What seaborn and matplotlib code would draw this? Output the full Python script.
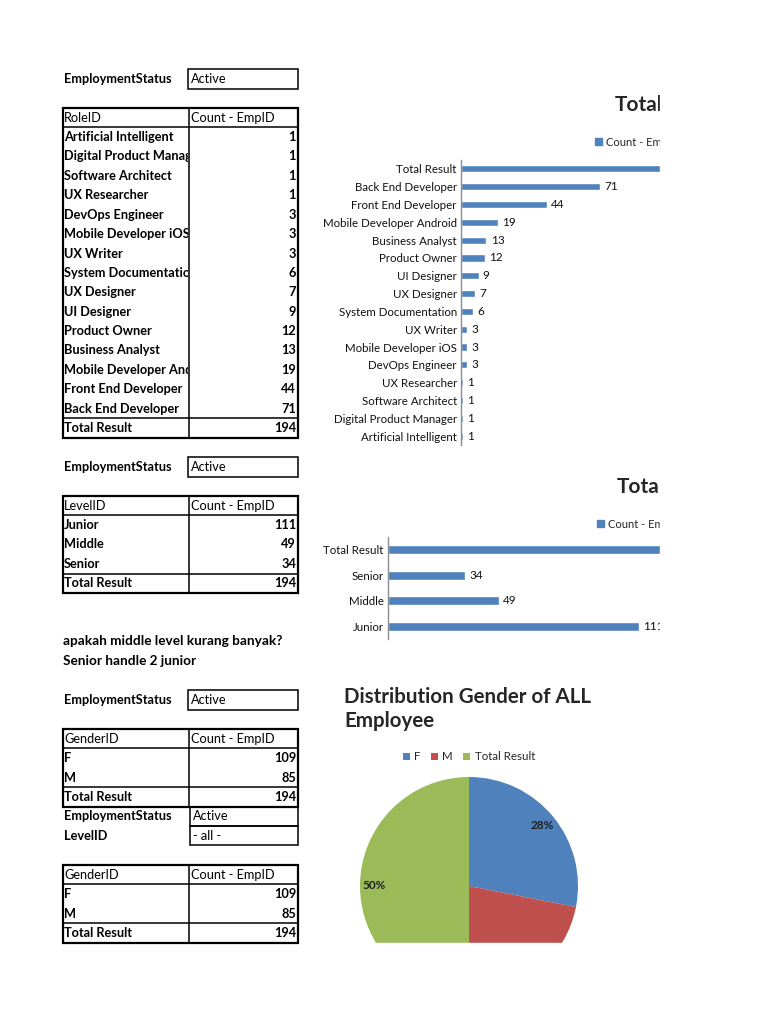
import pandas as pd
import seaborn as sns
import matplotlib.pyplot as plt
from matplotlib.patches import Rectangle, Patch
from matplotlib.transforms import Bbox, TransformedBbox

# pivot data (as in the sheet)
roles = ['Artificial Intelligent', 'Digital Product Manager', 'Software Architect', 'UX Researcher',
         'DevOps Engineer', 'Mobile Developer iOS', 'UX Writer', 'System Documentation',
         'UX Designer', 'UI Designer', 'Product Owner', 'Business Analyst',
         'Mobile Developer Android', 'Front End Developer', 'Back End Developer']
role_counts = [1, 1, 1, 1, 3, 3, 3, 6, 7, 9, 12, 13, 19, 44, 71]
levels = ['Junior', 'Middle', 'Senior']
level_counts = [111, 49, 34]
genders = ['F', 'M']
gender_counts = [109, 85]
total = 194
notes = ['apakah middle level kurang banyak?', 'Senior handle 2 junior']

BLUE = '#4F81BD'
RED = '#C0504D'
GREEN = '#9BBB59'

sns.set_theme(style='white')
plt.rcParams['font.family'] = ['Lato', 'DejaVu Sans']

W, H = 768, 1024
fig = plt.figure(figsize=(W / 100, H / 100), dpi=100)
fig.patch.set_facecolor('white')


def box(x0, y0, x1, y1):
    # pixel box with top-left origin -> figure rect
    return [x0 / W, 1 - y1 / H, (x1 - x0) / W, (y1 - y0) / H]


def bar_chart(df, rect, xmax, width, fs):
    ax = fig.add_axes(box(*rect))
    sns.barplot(data=df, x='count', y='name', color=BLUE, width=width, saturation=1,
                orient='h', ax=ax)
    ax.set_xlim(0, xmax)
    ax.bar_label(ax.containers[0], padding=3, fontsize=8.5, color='#111111')
    ax.set_xticks([])
    ax.set_xlabel('')
    ax.set_ylabel('')
    ax.tick_params(axis='y', length=0, labelsize=fs, pad=3, labelcolor='#111111')
    for s in ['top', 'right', 'bottom']:
        ax.spines[s].set_visible(False)
    ax.spines['left'].set_color('#8c8c8c')
    ax.spines['left'].set_linewidth(1.0)
    ax.set_facecolor('none')
    return ax


# role chart
df_role = pd.DataFrame({'name': roles + ['Total Result'], 'count': role_counts + [total]}).iloc[::-1]
ax1 = bar_chart(df_role, (461, 160, 660, 445), 199 / 1.96, 0.4, 8.3)
ax1.legend(handles=[Patch(color=BLUE, label='Count - EmpID')], loc='center left',
           bbox_to_anchor=(595 / W, 1 - 142 / H), bbox_transform=fig.transFigure,
           frameon=False, fontsize=8, handlelength=0.6, handleheight=0.6,
           handletextpad=0.4, borderpad=0, borderaxespad=0)

# level chart
df_level = pd.DataFrame({'name': levels + ['Total Result'], 'count': level_counts + [total]}).iloc[::-1]
ax2 = bar_chart(df_level, (388, 537, 660, 639), 272 / 2.26, 0.35, 8.3)
ax2.legend(handles=[Patch(color=BLUE, label='Count - EmpID')], loc='center left',
           bbox_to_anchor=(597 / W, 1 - 524 / H), bbox_transform=fig.transFigure,
           frameon=False, fontsize=8, handlelength=0.6, handleheight=0.6,
           handletextpad=0.4, borderpad=0, borderaxespad=0)

# gender pie
axp = fig.add_axes(box(360, 777, 578, 995))
wedges, _, pcts = axp.pie(gender_counts + [total], colors=[BLUE, RED, GREEN], startangle=90,
                          counterclock=False, autopct='%1.0f%%', pctdistance=0.87,
                          wedgeprops=dict(linewidth=0),
                          textprops=dict(fontsize=8.5, weight='bold', color='#1f1f1f'))
axp.set_xlim(-1, 1)
axp.set_ylim(-1, 1)
axp.legend(wedges, genders + ['Total Result'], ncol=3, loc='center',
           bbox_to_anchor=(469 / W, 1 - 757 / H), bbox_transform=fig.transFigure,
           frameon=False, fontsize=8.3, handlelength=0.6, handleheight=0.6,
           handletextpad=0.4, columnspacing=0.9, borderpad=0)

# sheet layer: tables, notes, titles
page = fig.add_axes([0, 0, 1, 1], zorder=5)
page.set_xlim(0, W)
page.set_ylim(0, H)
page.axis('off')

FS = 9.2
RH = 19.4


def txt(x, y, s, clip=None, **kw):
    kw.setdefault('fontsize', FS)
    kw.setdefault('weight', 'bold')
    t = page.text(x, H - y, s, va='center', color='black', **kw)
    if clip is not None:
        t.set_clip_box(TransformedBbox(Bbox.from_extents(clip[0], 0, clip[1], H), page.transData))
        t.set_clip_on(True)
    return t


def rect(x0, y0, x1, y1, lw=1.3):
    page.add_patch(Rectangle((x0, H - y1), x1 - x0, y1 - y0, fill=False, ec='black', lw=lw))


def hline(y, lw=1.1):
    page.plot([63, 298], [H - y, H - y], color='black', lw=lw, solid_capstyle='butt')


def filter_row(y, label, value):
    txt(64, y, label)
    rect(188, y - 10, 298, y + 10, lw=1.1)
    txt(191, y, value, weight='normal')


def pivot(top, head, names, values):
    hl = top + RH
    tl = hl + RH * len(names)
    bottom = tl + RH
    rect(63, top, 298, bottom, lw=1.6)
    page.plot([189, 189], [H - top, H - bottom], color='black', lw=1.1)
    hline(hl)
    hline(tl)
    txt(64, top + RH / 2, head, weight='normal')
    txt(191, top + RH / 2, 'Count - EmpID', weight='normal')
    for i, (n, v) in enumerate(zip(names, values)):
        y = hl + RH / 2 + i * RH
        txt(64, y, n, clip=(0, 188))
        txt(296, y, str(v), ha='right')
    txt(64, tl + RH / 2, 'Total Result')
    txt(296, tl + RH / 2, str(sum(values)), ha='right')
    return bottom


filter_row(79, 'EmploymentStatus', 'Active')
pivot(108, 'RoleID', roles, role_counts)

filter_row(467, 'EmploymentStatus', 'Active')
pivot(496, 'LevelID', levels, level_counts)
for i, s in enumerate(notes):
    txt(63, 641 + i * 20, s, fontsize=9.8)

filter_row(700, 'EmploymentStatus', 'Active')
b = pivot(729, 'GenderID', genders, gender_counts)
rect(190, b, 298, b + RH, lw=1.1)
rect(190, b + RH, 298, b + 2 * RH, lw=1.1)
txt(64, b + RH / 2, 'EmploymentStatus')
txt(193, b + RH / 2, 'Active', weight='normal')
txt(64, b + 1.5 * RH, 'LevelID')
txt(193, b + 1.5 * RH, '- all -', weight='normal')
pivot(865, 'GenderID', genders, gender_counts)

# chart titles
page.text(615, H - 105, 'Total', fontsize=15, weight='bold', va='center')
page.text(617, H - 487, 'Total', fontsize=15, weight='bold', va='center')
page.text(344, H - 709, 'Distribution Gender of ALL\nEmployee', fontsize=14.8, weight='bold',
          va='center', linespacing=1.2)

# page edge crops the charts
page.add_patch(Rectangle((660, 0), W - 660, H, color='white', zorder=50))
page.add_patch(Rectangle((330, 0), 330, H - 943, color='white', zorder=50))

fig.savefig('out.png', dpi=100, facecolor='white')
